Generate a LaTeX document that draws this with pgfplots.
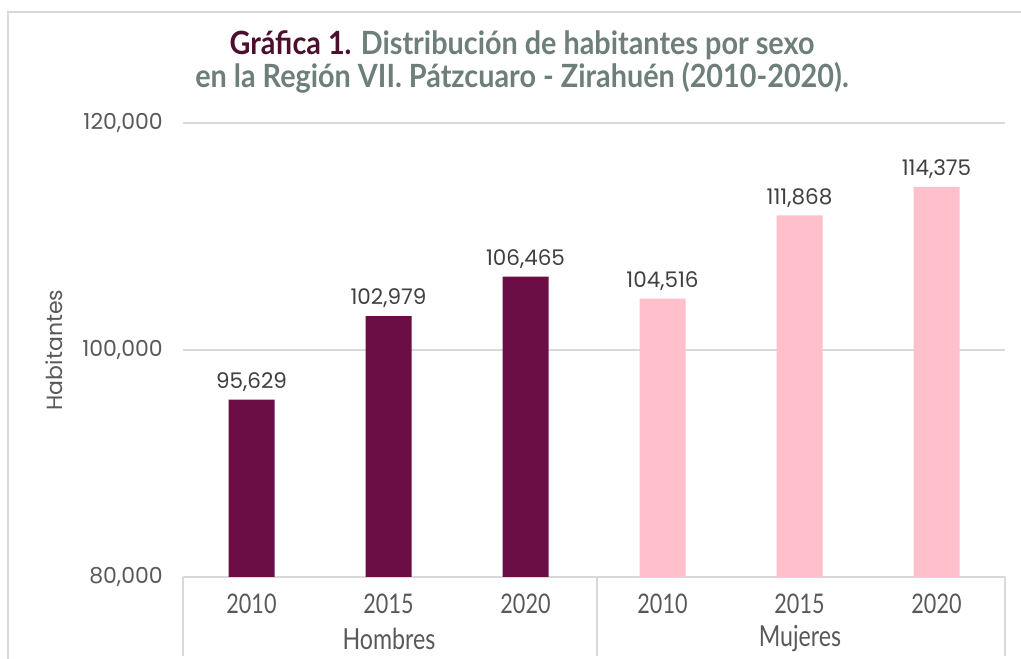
\documentclass[border=0pt]{standalone}
\usepackage{fontspec}
\setmainfont{Lato}
\newfontfamily\numfont{Poppins}
\newfontfamily\condfont[FakeStretch=0.8]{Lato}
\newfontfamily\titlefont[FakeStretch=0.9]{Lato}
\usepackage{pgfplots}
\pgfplotsset{compat=1.18}
\definecolor{maroon}{HTML}{6B0E46}
\definecolor{pinkb}{HTML}{FFC0CB}
\definecolor{gridc}{HTML}{D9D9D9}
\definecolor{titA}{HTML}{4D0F2E}
\definecolor{titB}{HTML}{6E7F7B}
\definecolor{txt}{HTML}{595959}
\definecolor{vtxt}{HTML}{404040}
\begin{document}
\begin{tikzpicture}[x=1pt,y=1pt]
\useasboundingbox (0,0) rectangle (1021,659);
\draw[gridc, line width=1.5pt] (8,-20) -- (8,647) -- (1040,647);
\begin{axis}[
  at={(183pt,82pt)}, anchor=south west,
  scale only axis, width=822pt, height=454pt,
  xmin=-0.5, xmax=5.5, ymin=80000, ymax=120000,
  ytick={80000,100000,120000},
  xtick={0,1,2,3,4,5},
  xticklabels={2010,2015,2020,2010,2015,2020},
  axis line style={draw=none},
  tick style={draw=none},
  ymajorgrids, grid style={gridc, line width=1.2pt},
  scaled y ticks=false,
  yticklabel={\pgfmathprintnumber[fixed,precision=0,1000 sep={,},assume math mode=true]{\tick}},
  yticklabel style={font=\numfont\fontsize{22}{22}\selectfont, text=txt, anchor=east, inner sep=0pt, xshift=-20pt},
  xticklabel style={font=\condfont\fontsize{27}{27}\selectfont, text=txt, anchor=base, inner sep=0pt, yshift=-32pt},
  ybar, bar width=46pt,
  nodes near coords={\pgfmathprintnumber[fixed,precision=0,1000 sep={,},assume math mode=true]{\pgfplotspointmeta}},
  nodes near coords style={font=\numfont\fontsize{21.5}{21.5}\selectfont, text=vtxt, anchor=south, inner sep=0pt, yshift=8pt},
  clip=false,
]
\addplot[fill=maroon, draw=none, bar shift=0pt] coordinates {(0,95629) (1,102979) (2,106465)};
\addplot[fill=pinkb, draw=none, bar shift=0pt] coordinates {(3,104516) (4,111868) (5,114375)};
\end{axis}
\draw[gridc, line width=1.2pt] (183,82) -- (183,3);
\draw[gridc, line width=1.2pt] (597,82) -- (597,3);
\draw[gridc, line width=1.2pt] (1005,82) -- (1005,3);
\node[font=\condfont\fontsize{29}{29}\selectfont, text=txt] at (389,20) {Hombres};
\node[font=\condfont\fontsize{29}{29}\selectfont, text=txt] at (800,20) {Mujeres};
\node[font=\numfont\fontsize{22}{22}\selectfont, text=txt, rotate=90] at (54,309) {Habitantes};
\node[font=\titlefont\bfseries\fontsize{32}{33}\selectfont, text=titB, align=center] at (522,597)
  {\textcolor{titA}{Gráfica 1.} Distribución de habitantes por sexo\\en la Región VII. Pátzcuaro - Zirahuén (2010-2020).};
\end{tikzpicture}
\end{document}
